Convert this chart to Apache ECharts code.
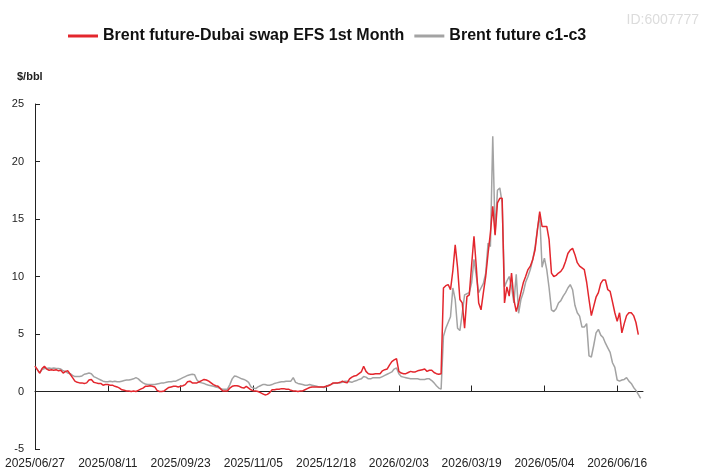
<!DOCTYPE html>
<html>
<head>
<meta charset="utf-8">
<script src="https://cdn.jsdelivr.net/npm/echarts@6/dist/echarts.min.js"></script>
<style>
    html, body { margin: 0; padding: 0; background: #fff; }
    #chart { width: 702px; height: 470px; }
</style>
</head>
<body>
<div id="chart"></div>
<script>
// trading days (weekends and these holidays skipped)
var startDate = '2025-06-27';
var dayCount = 260;
var holidays = ['2025-12-25', '2026-01-01', '2026-02-16', '2026-04-03'];

var efsName = 'Brent future-Dubai swap EFS 1st Month';
var spreadName = 'Brent future c1-c3';

var efsValues = [
    2.2, 1.9, 1.6, 2.0, 2.2, 1.95, 1.85, 1.9, 1.85, 1.9,
    1.8, 1.85, 1.6, 1.75, 1.8, 1.5, 1.2, 0.9, 0.8, 0.75,
    0.75, 0.7, 0.75, 1.0, 1.05, 0.8, 0.75, 0.7, 0.7, 0.55,
    0.6, 0.6, 0.55, 0.55, 0.45, 0.4, 0.3, 0.15, 0.1, 0.05,
    0.05, 0.0, 0.05, 0.0, 0.1, 0.2, 0.3, 0.45, 0.45, 0.5,
    0.45, 0.4, 0.1, 0.0, 0.0, 0.05, 0.2, 0.35, 0.4, 0.45,
    0.45, 0.4, 0.45, 0.5, 0.6, 0.85, 0.9, 0.75, 0.75, 0.75,
    0.85, 0.95, 1.05, 1.0, 0.9, 0.75, 0.6, 0.5, 0.45, 0.25,
    0.05, 0.05, 0.05, 0.3, 0.45, 0.5, 0.5, 0.45, 0.35, 0.3,
    0.45, 0.3, 0.15, 0.05, 0.05, 0.0, -0.1, -0.2, -0.3, -0.25,
    -0.1, 0.15, 0.15, 0.2, 0.2, 0.25, 0.25, 0.2, 0.2, 0.1,
    0.05, 0.05, 0.0, 0.05, 0.05, 0.15, 0.25, 0.35, 0.4, 0.4,
    0.4, 0.4, 0.4, 0.4, 0.45, 0.5, 0.6, 0.75, 0.75, 0.75,
    0.8, 0.9, 0.8, 0.75, 1.1, 1.25, 1.35, 1.4, 1.55, 1.7,
    2.2, 1.75, 1.55, 1.5, 1.5, 1.55, 1.55, 1.55, 1.8, 1.9,
    1.95, 2.3, 2.6, 2.75, 2.85, 1.75, 1.6, 1.55, 1.55, 1.65,
    1.75, 1.7, 1.7, 1.8, 1.85, 1.9, 1.95, 1.75, 1.85, 1.85,
    1.65, 1.55, 1.5, 1.55, 9.0, 9.2, 9.3, 8.85, 10.5, 12.75,
    10.8, 8.0, 7.7, 5.5, 8.25, 8.4, 11.0, 13.5, 10.8, 7.7,
    7.1, 8.6, 10.0, 12.0, 13.8, 16.1, 13.6, 16.4, 16.8, 16.8,
    7.7, 9.1, 8.3, 10.3, 8.0, 6.95, 7.7, 8.6, 9.45, 10.0,
    10.6, 10.9, 11.45, 12.3, 14.0, 15.65, 14.35, 14.35, 14.35, 13.2,
    10.3, 10.0, 10.1, 10.3, 10.45, 10.75, 11.3, 12.0, 12.3, 12.45,
    11.9, 11.2, 10.9, 10.75, 10.6, 9.5, 8.0, 6.6, 7.4, 8.2,
    8.6, 9.4, 9.7, 9.7, 8.85, 8.7, 7.8, 6.85, 6.1, 6.85,
    5.1, 5.9, 6.6, 6.85, 6.85, 6.6, 6.0, 4.95
];

var spreadValues = [
    2.2, 1.9, 1.6, 1.9, 2.0, 2.0, 2.05, 2.0, 2.05, 2.0,
    2.0, 1.95, 1.8, 1.75, 1.6, 1.55, 1.4, 1.3, 1.3, 1.3,
    1.35, 1.5, 1.55, 1.6, 1.55, 1.3, 1.2, 1.1, 1.0, 0.9,
    0.85, 0.85, 0.9, 0.85, 0.9, 0.85, 0.85, 0.9, 0.95, 1.0,
    1.0, 1.05, 1.1, 1.2, 1.1, 0.9, 0.75, 0.65, 0.6, 0.6,
    0.6, 0.6, 0.65, 0.7, 0.75, 0.75, 0.8, 0.85, 0.85, 0.9,
    0.9, 1.0, 1.1, 1.2, 1.3, 1.4, 1.45, 1.5, 1.45, 1.0,
    0.8, 0.75, 0.7, 0.6, 0.55, 0.5, 0.45, 0.4, 0.35, 0.25,
    0.2, 0.2, 0.2, 0.6, 1.1, 1.35, 1.3, 1.2, 1.1, 1.05,
    0.95, 0.8, 0.4, 0.3, 0.25, 0.4, 0.5, 0.6, 0.6, 0.55,
    0.55, 0.6, 0.7, 0.75, 0.8, 0.85, 0.85, 0.9, 0.9, 0.9,
    1.2, 0.8, 0.7, 0.65, 0.6, 0.55, 0.55, 0.6, 0.55, 0.5,
    0.45, 0.4, 0.4, 0.35, 0.4, 0.55, 0.6, 0.7, 0.75, 0.75,
    0.75, 0.8, 0.9, 0.9, 0.85, 0.8, 0.9, 0.95, 1.05, 1.1,
    1.3, 1.25, 1.1, 1.1, 1.2, 1.2, 1.2, 1.2, 1.3, 1.4,
    1.5, 1.6, 1.7, 1.95, 2.05, 1.55, 1.3, 1.25, 1.2, 1.15,
    1.1, 1.1, 1.1, 1.1, 1.05, 1.05, 1.05, 1.1, 1.1, 0.95,
    0.75, 0.5, 0.3, 0.2, 4.8, 5.5, 6.0, 6.5, 9.0, 8.0,
    5.5, 5.3, 6.8, 8.4, 8.5, 8.6, 9.45, 11.5, 10.0, 8.6,
    9.0, 9.4, 10.3, 12.9, 12.6, 22.2, 13.7, 17.5, 17.7, 16.4,
    9.1, 9.6, 10.0, 9.1, 7.7, 10.2, 6.8, 8.0, 8.6, 9.5,
    10.0, 10.6, 11.45, 12.5, 14.1, 15.4, 10.8, 11.6, 10.6, 9.0,
    7.1, 6.95, 7.2, 7.7, 7.9, 8.3, 8.6, 9.0, 9.3, 8.85,
    7.5, 6.85, 6.55, 5.6, 5.6, 5.9, 3.1, 3.0, 4.0, 5.1,
    5.4, 4.9, 4.7, 4.2, 3.8, 3.4, 2.5, 2.1, 1.0, 0.9,
    1.0, 1.05, 1.2, 0.9, 0.7, 0.35, 0.1, -0.25, -0.6
];

var yTicks = [-5, 0, 5, 10, 15, 20, 25];

function pad(n) {
    return n < 10 ? '0' + n : '' + n;
}

function tradingDays(start, count) {
    var out = [];
    var d = new Date(start + 'T00:00:00Z');
    while (out.length < count) {
        var wd = d.getUTCDay();
        var iso = d.getUTCFullYear() + '-' + pad(d.getUTCMonth() + 1) + '-' + pad(d.getUTCDate());
        if (wd !== 0 && wd !== 6 && holidays.indexOf(iso) < 0) {
            out.push(iso.replace(/-/g, '/'));
        }
        d.setUTCDate(d.getUTCDate() + 1);
    }
    return out;
}

var dates = tradingDays(startDate, dayCount);

var chart = echarts.init(document.getElementById('chart'));
var font = 'Liberation Sans, Arial, sans-serif';

var option = {
    animation: false,
    backgroundColor: '#fff',
    textStyle: {fontFamily: font},
    legend: {
        top: 23,
        left: 63,
        icon: 'rect',
        itemWidth: 30,
        itemHeight: 3,
        itemGap: 10,
        textStyle: {fontSize: 16, fontWeight: 'bold', color: '#111', fontFamily: font},
        data: [efsName, spreadName]
    },
    grid: {left: 35, right: 59, top: 104, bottom: 21, containLabel: false},
    graphic: [
        {
            type: 'text', right: 3, top: 13,
            style: {text: 'ID:6007777', fill: '#dcdcdc', font: '14px ' + font}
        },
        {
            type: 'text', left: 17, top: 71,
            style: {text: '$/bbl', fill: '#222', font: 'bold 11px ' + font}
        }
    ],
    xAxis: [
        {
            type: 'category',
            data: dates,
            boundaryGap: false,
            axisLine: {onZero: true, lineStyle: {color: '#222', width: 1}},
            axisTick: {show: true, inside: true, length: 6, interval: 30, lineStyle: {color: '#222'}},
            axisLabel: {show: false},
            splitLine: {show: false}
        },
        {
            type: 'category',
            data: dates,
            boundaryGap: false,
            position: 'bottom',
            axisLine: {show: false, onZero: false},
            axisTick: {show: false},
            axisLabel: {show: true, interval: 30, color: '#222', fontSize: 12, margin: 9},
            splitLine: {show: false}
        }
    ],
    yAxis: {
        type: 'value',
        min: yTicks[0],
        max: yTicks[yTicks.length - 1],
        interval: 5,
        axisLine: {show: true, lineStyle: {color: '#222', width: 1}},
        axisTick: {show: true, inside: true, length: 5, lineStyle: {color: '#222'}},
        axisLabel: {color: '#222', fontSize: 11, margin: 11},
        splitLine: {show: false}
    },
    series: [
        {
            name: efsName,
            type: 'line',
            xAxisIndex: 0,
            data: efsValues,
            showSymbol: false,
            smooth: false,
            lineStyle: {color: '#e3262d', width: 1.5},
            itemStyle: {color: '#e3262d'},
            z: 3
        },
        {
            name: spreadName,
            type: 'line',
            xAxisIndex: 0,
            data: spreadValues,
            showSymbol: false,
            smooth: false,
            lineStyle: {color: '#a3a3a3', width: 1.5},
            itemStyle: {color: '#a3a3a3'},
            z: 2
        }
    ]
};

chart.setOption(option);
</script>
</body>
</html>
